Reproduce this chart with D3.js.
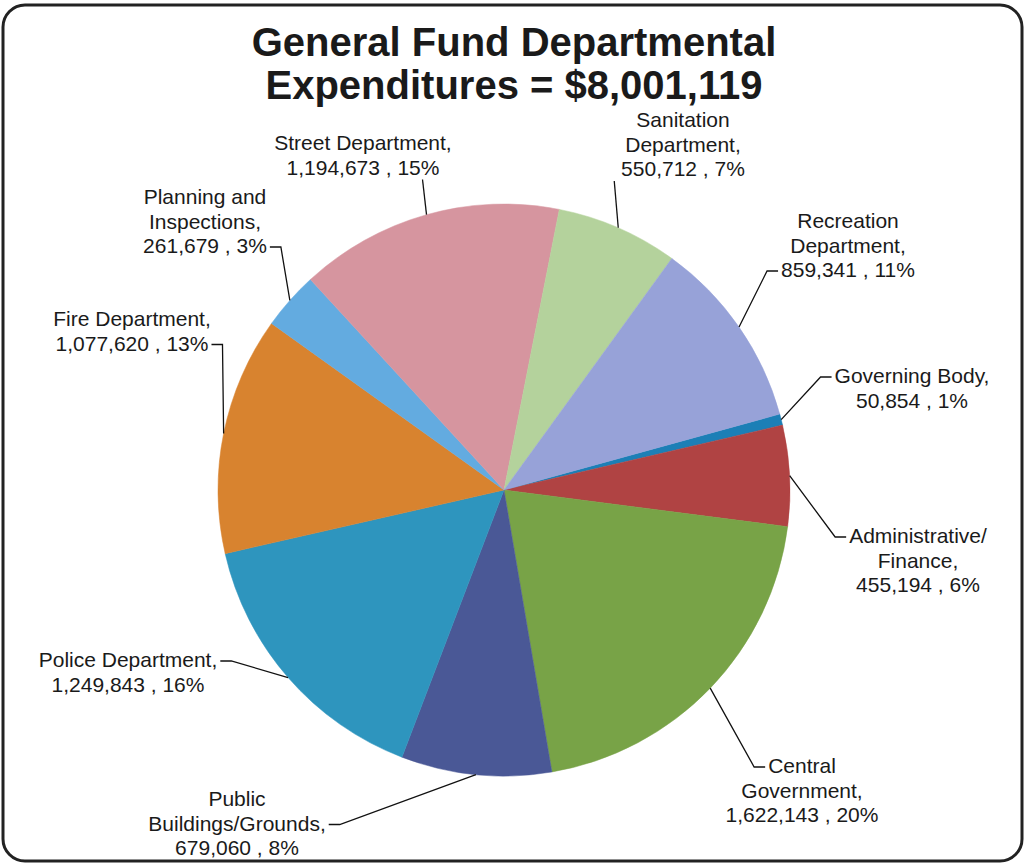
<!DOCTYPE html>
<html>
<head>
<meta charset="utf-8">
<script src="https://cdn.jsdelivr.net/npm/d3@7"></script>
<style>
  html, body { margin: 0; padding: 0; background: #fff; }
  svg { display: block; }
  .lbl { font-family: "Liberation Sans", Arial, sans-serif; font-size: 21px; fill: #1a1a1a; }
  .title { font-family: "Liberation Sans", Arial, sans-serif; font-size: 40px; font-weight: bold; fill: #1a1a1a; }
</style>
</head>
<body>
<div id="chart"></div>
<script>
// data, in slice order (clockwise)
const categories = [
    "Governing Body",
    "Administrative/\nFinance",
    "Central\nGovernment",
    "Public\nBuildings/Grounds",
    "Police Department",
    "Fire Department",
    "Planning and\nInspections",
    "Street Department",
    "Sanitation\nDepartment",
    "Recreation\nDepartment"
];
const amounts = [50854, 455194, 1622143, 679060, 1249843, 1077620, 261679, 1194673, 550712, 859341];
const sliceColors = ["#1c7fb6", "#b04343", "#78a347", "#4a5896", "#2e95be", "#d8832f", "#63abe0", "#d6959f", "#b4d29c", "#97a2d8"];
const titleLines = ["General Fund Departmental", "Expenditures = $8,001,119"];

// where each label sits: text centre x, first baseline y, and which side the leader hooks on
const labelLayout = [
    { x: 912, y: 383, side: "left", line: 0 },
    { x: 918, y: 543, side: "left", line: 0 },
    { x: 802, y: 773, side: "left", line: 0 },
    { x: 237, y: 806, side: "right", line: 1 },
    { x: 128, y: 667, side: "right", line: 0 },
    { x: 132, y: 326, side: "right", line: 1 },
    { x: 205, y: 204, side: "right", line: 2 },
    { x: 363, y: 150, side: "below", line: 1 },
    { x: 683, y: 127, side: "below", line: 2 },
    { x: 848, y: 228, side: "left", line: 2 }
];

const W = 1029, H = 867;
const cx = 504, cy = 490, radius = 286;
const lineH = 24.5;
const startDeg = 74.6;

const svg = d3.select("#chart").append("svg")
    .attr("width", W)
    .attr("height", H);

// frame
svg.append("rect")
    .attr("x", 3).attr("y", 5)
    .attr("width", 1019).attr("height", 856)
    .attr("rx", 22).attr("ry", 22)
    .attr("fill", "#fff")
    .attr("stroke", "#222")
    .attr("stroke-width", 3);

// title
svg.selectAll(".title")
    .data(titleLines)
    .enter().append("text")
    .attr("class", "title")
    .attr("x", 514)
    .attr("y", (d, i) => 56 + i * 43)
    .attr("text-anchor", "middle")
    .text(d => d);

const total = d3.sum(amounts);
const data = amounts.map((v, i) => ({ name: categories[i], value: v, i: i }));

const start = startDeg * Math.PI / 180;
const pie = d3.pie()
    .sort(null)
    .value(d => d.value)
    .startAngle(start)
    .endAngle(start + 2 * Math.PI);

const arc = d3.arc().innerRadius(0).outerRadius(radius);
const arcs = pie(data);

const g = svg.append("g").attr("transform", `translate(${cx},${cy})`);

g.selectAll("path.slice")
    .data(arcs)
    .enter().append("path")
    .attr("class", "slice")
    .attr("d", arc)
    .attr("fill", d => sliceColors[d.data.i])
    .attr("stroke", d => sliceColors[d.data.i])
    .attr("stroke-width", 0.5);

const fmt = d3.format(",");

// labels + leader lines
arcs.forEach(a => {
    const lay = labelLayout[a.data.i];
    const lines = a.data.name.split("\n");
    lines[lines.length - 1] += ",";
    const pct = Math.round(a.data.value / total * 100);
    lines.push(fmt(a.data.value) + " , " + pct + "%");

    const t = svg.append("text")
        .attr("class", "lbl")
        .attr("text-anchor", "middle");
    const spans = lines.map((s, k) => t.append("tspan")
        .attr("x", lay.x)
        .attr("y", lay.y + k * lineH)
        .text(s));

    // edge point at the slice's mid angle
    const mid = (a.startAngle + a.endAngle) / 2;
    const ex = cx + radius * Math.sin(mid);
    const ey = cy - radius * Math.cos(mid);

    const w = spans[lay.line].node().getComputedTextLength();
    const ly = lay.y + lay.line * lineH - 6;
    let pts;
    if (lay.side === "left") {
        const tx = lay.x - w / 2 - 3;
        pts = [[tx, ly], [tx - 11, ly], [ex, ey]];
    } else if (lay.side === "right") {
        const tx = lay.x + w / 2 + 3;
        pts = [[tx, ly], [tx + 11, ly], [ex, ey]];
    } else {
        const by = lay.y + lay.line * lineH + 5;
        pts = [[ex - 4, by], [ex, ey]];
    }
    svg.append("path")
        .attr("d", d3.line()(pts))
        .attr("fill", "none")
        .attr("stroke", "#111")
        .attr("stroke-width", 1.3);
});
</script>
</body>
</html>
